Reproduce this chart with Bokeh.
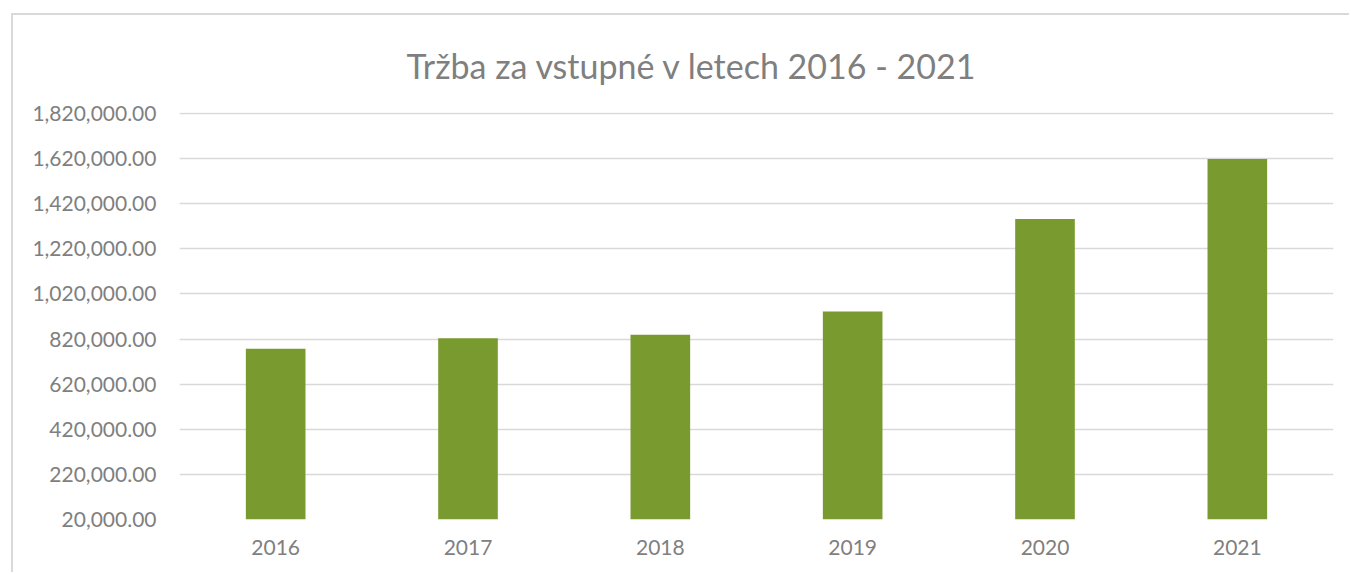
from bokeh.plotting import figure
from bokeh.models import FixedTicker, NumeralTickFormatter, ColumnDataSource
from bokeh.embed import file_html
from bokeh.resources import INLINE

years = ["2016", "2017", "2018", "2019", "2020", "2021"]
revenue = [777000, 824000, 839000, 942000, 1352000, 1618000]
y_ticks = [20000, 220000, 420000, 620000, 820000, 1020000, 1220000, 1420000, 1620000, 1820000]
title_text = "Tržba za vstupné v letech 2016 - 2021"

FONT = "Lato"
GRAY = "#7f7f7f"

src = ColumnDataSource(dict(x=years, top=revenue))

p = figure(x_range=years, y_range=(y_ticks[0], y_ticks[-1] + 4500), width=1338, height=559,
           output_backend="svg", toolbar_location=None, tools="",
           min_border_left=166, min_border_right=18, min_border_top=97, min_border_bottom=55)
p.styles = {"margin-left": "11px", "margin-top": "13px",
            "border-left": "2px solid #d9d9d9", "border-top": "2px solid #d9d9d9"}

p.vbar(x="x", top="top", bottom=y_ticks[0], width=0.31, source=src,
       fill_color="#799a2e", line_color=None)

p.title.text = title_text
p.title.align = "left"
p.title.offset = 227
p.title.text_font = FONT
p.title.text_font_size = "34px"
p.title.text_font_style = "normal"
p.title.text_color = GRAY
p.title.standoff = 53

p.outline_line_color = None
p.background_fill_color = "white"
p.border_fill_color = "white"

p.xgrid.grid_line_color = None
p.ygrid.grid_line_color = "#d9d9d9"
p.ygrid.grid_line_width = 1.5

p.yaxis.ticker = FixedTicker(ticks=y_ticks)
p.yaxis.formatter = NumeralTickFormatter(format="0,0.00")
p.yaxis.axis_line_color = None
p.yaxis.major_tick_line_color = None
p.yaxis.minor_tick_line_color = None
p.yaxis.major_label_text_font = FONT
p.yaxis.major_label_text_font_size = "21px"
p.yaxis.major_label_text_color = GRAY
p.yaxis.major_label_standoff = 17

p.xaxis.axis_line_color = None
p.xaxis.major_tick_line_color = None
p.xaxis.minor_tick_line_color = None
p.xaxis.major_label_text_font = FONT
p.xaxis.major_label_text_font_size = "21px"
p.xaxis.major_label_text_color = GRAY
p.xaxis.major_label_standoff = 14

open("out.html", "w").write(file_html(p, INLINE))
